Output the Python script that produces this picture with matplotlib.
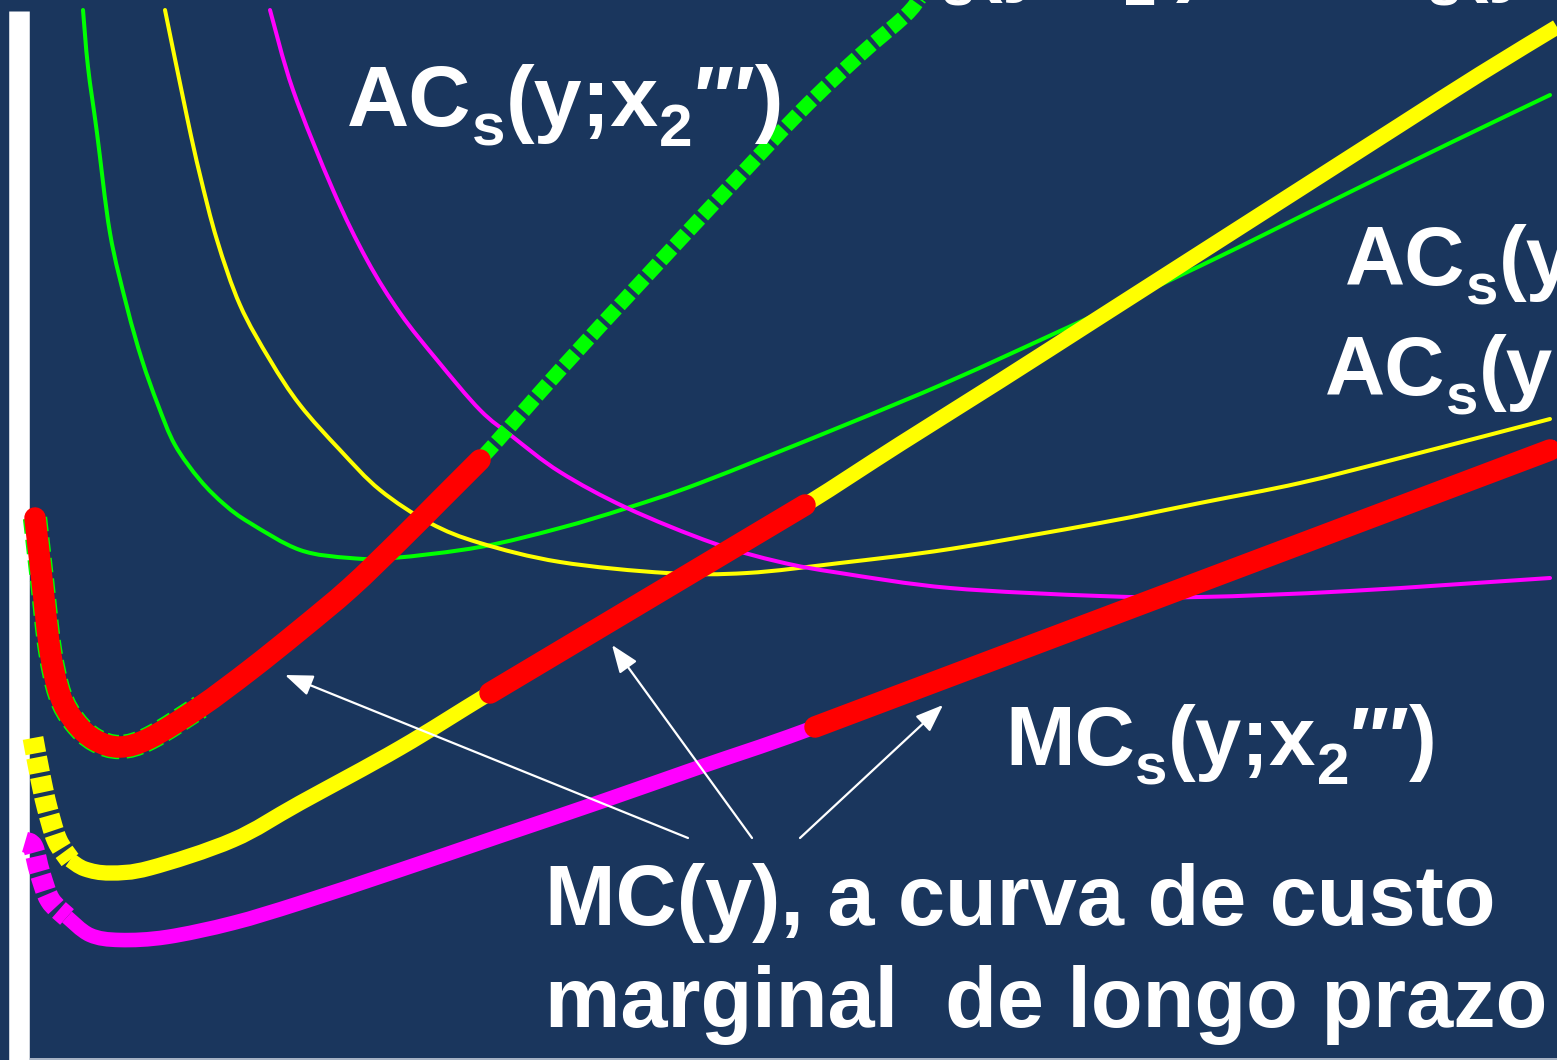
import matplotlib
matplotlib.use("Agg")
import matplotlib.pyplot as plt
from matplotlib.path import Path
from matplotlib.patches import PathPatch

# Output level (q) and cost (c) for each short-run curve, in chart units
# (q runs 0..1557 left to right, c runs 0..1060 bottom to top).

# Short-run average cost curves for plants x2', x2'', x2'''
ac1_q = [83, 88, 97, 110, 127, 142, 158, 175, 200, 225, 250, 300, 350, 393, 480,
         560, 627, 700, 840, 950, 1060, 1200, 1350, 1450, 1550]
ac1_c = [1050, 993, 927, 827, 753, 700, 655, 615, 580, 555, 537, 510, 502, 502, 513,
         532, 552, 577, 633, 679, 729, 794, 868, 917, 965]

ac2_q = [165, 187, 200, 217, 240, 270, 300, 340, 380, 430, 480, 560, 667, 747, 840,
         950, 1100, 1200, 1300, 1400, 1550]
ac2_c = [1050, 943, 885, 820, 755, 700, 655, 610, 570, 537, 517, 498, 487, 487, 497,
         511, 537, 557, 577, 602, 641]

ac3_q = [270, 293, 333, 367, 400, 437, 480, 513, 560, 627, 713, 780, 840, 950,
         1100, 1200, 1350, 1550]
ac3_c = [1050, 970, 870, 800, 747, 700, 650, 623, 588, 552, 517, 498, 487, 472,
         464, 463, 469, 482]

# Short-run marginal cost curves
mc1_q = [35, 42, 50, 60, 75, 95, 120, 150, 200, 250, 300, 350, 400, 440,
         480, 560, 640, 720, 800, 860, 905, 920]
mc1_c = [545, 480, 410, 365, 338, 320, 313, 322, 353, 390, 430, 472, 520, 560,
         600, 690, 777, 863, 948, 1005, 1044, 1062]

mc2_q = [33, 40, 47, 57, 70, 85, 110, 150, 233, 300, 400, 490, 600, 700, 805, 900,
         1000, 1100, 1200, 1300, 1400, 1480, 1557]
mc2_c = [322, 285, 253, 220, 200, 191, 187, 192, 220, 257, 312, 367, 433, 492, 555, 616,
         679, 743, 807, 871, 935, 986, 1033]

mc3_q = [25, 33, 40, 50, 67, 90, 120, 167, 233, 300, 400, 500, 600, 700, 807,
         1000, 1200, 1400, 1557]
mc3_c = [218, 213, 187, 160, 143, 125, 120, 123, 137, 157, 190, 224, 258, 293, 330,
         403, 478, 554, 613]

# Long-run marginal cost: the pieces of the short-run MC curves that are used
lmc1_q = [35, 42, 50, 60, 75, 95, 120, 150, 200, 250, 300, 350, 400, 440, 480]
lmc1_c = [542, 480, 410, 365, 338, 320, 313, 322, 353, 390, 430, 472, 520, 560, 600]
lmc2_q = [490, 805]
lmc2_c = [367, 555]
lmc3_q = [815, 1550]
lmc3_c = [333, 610]

# Pointer arrows (tail -> head)
arrow_tail_q = [688, 752, 800]
arrow_tail_c = [222, 222, 222]
arrow_head_q = [285, 612, 943]
arrow_head_c = [385, 415, 355]

NAVY = "#1a365d"
GREEN = "#00ff00"
YELLOW = "#ffff00"
MAGENTA = "#ff00ff"
RED = "#ff0000"

W, H = 1557, 1060
fig = plt.figure(figsize=(W / 100, H / 100), dpi=100, facecolor=NAVY)
ax = fig.add_axes([0, 0, 1, 1])
ax.set_facecolor(NAVY)
ax.set_xlim(0, W)
ax.set_ylim(0, H)
ax.axis("off")


def smooth_curve(q, c, color, lw, linestyle="solid", capstyle="round", zorder=3):
    """Draw a smooth curve through the given points (Catmull-Rom as cubic Beziers)."""
    pts = list(zip(q, c))
    n = len(pts)
    verts = [pts[0]]
    codes = [Path.MOVETO]
    if n == 2:
        verts.append(pts[1])
        codes.append(Path.LINETO)
    else:
        for i in range(n - 1):
            p0 = pts[i - 1] if i > 0 else pts[i]
            p1 = pts[i]
            p2 = pts[i + 1]
            p3 = pts[i + 2] if i + 2 < n else pts[i + 1]
            c1 = (p1[0] + (p2[0] - p0[0]) / 6, p1[1] + (p2[1] - p0[1]) / 6)
            c2 = (p2[0] - (p3[0] - p1[0]) / 6, p2[1] - (p3[1] - p1[1]) / 6)
            verts += [c1, c2, p2]
            codes += [Path.CURVE4] * 3
    patch = PathPatch(Path(verts, codes), fill=False, edgecolor=color, lw=lw,
                      linestyle=linestyle, capstyle=capstyle, joinstyle="round",
                      zorder=zorder)
    ax.add_patch(patch)


# vertical cost axis and lower border
ax.plot([19.5, 19.5], [0, 1049], color="white", lw=14.8, solid_capstyle="butt", zorder=2)
ax.plot([30, W], [0.8, 0.8], color="#c3ccd8", lw=1.2, zorder=2)

# short-run average cost curves
for q, c, col in [(ac1_q, ac1_c, GREEN), (ac2_q, ac2_c, YELLOW), (ac3_q, ac3_c, MAGENTA)]:
    smooth_curve(q, c, col, 2.9, zorder=3)

# short-run marginal cost curves (dashed where they rise steeply from the axis)
dash = (0, (1.1, 0.3))
head_dash = (0, (0.75, 0.2))
smooth_curve(mc1_q, mc1_c, GREEN, 10.5, linestyle=dash, capstyle="butt", zorder=4)
smooth_curve(mc2_q[:5], mc2_c[:5], YELLOW, 15, linestyle=head_dash, capstyle="butt", zorder=4)
smooth_curve(mc2_q[4:], mc2_c[4:], YELLOW, 11, capstyle="butt", zorder=4)
smooth_curve(mc3_q[:5], mc3_c[:5], MAGENTA, 15, linestyle=head_dash, capstyle="butt", zorder=4)
smooth_curve(mc3_q[4:], mc3_c[4:], MAGENTA, 10.5, capstyle="butt", zorder=4)

# green short-run MC peeking out along the first long-run piece
smooth_curve(lmc1_q[:9], lmc1_c[:9], GREEN, 17.5, linestyle=(0, (0.6, 0.25)),
             capstyle="butt", zorder=4.5)

# long-run marginal cost pieces
for q, c in [(lmc1_q, lmc1_c), (lmc2_q, lmc2_c), (lmc3_q, lmc3_c)]:
    smooth_curve(q, c, RED, 15.5, capstyle="round", zorder=5)

# arrows from the caption to the red pieces
for tq, tc, hq, hc in zip(arrow_tail_q, arrow_tail_c, arrow_head_q, arrow_head_c):
    ax.annotate("", xy=(hq, hc), xytext=(tq, tc),
                arrowprops=dict(arrowstyle="-|>,head_length=1.7,head_width=0.65",
                                color="white", lw=1.6, mutation_scale=10,
                                shrinkA=0, shrinkB=0), zorder=6)

FAMILY = ["Liberation Sans", "DejaVu Sans"]
renderer = fig.canvas.get_renderer()


def label(x, y, pieces, size):
    """Write a label made of normal and subscript pieces, left to right."""
    em = size * 100 / 72
    for text, sub in pieces:
        fs = size * 0.7 if sub else size
        dy = -0.23 * em if sub else 0
        t = ax.text(x, y + dy, text, fontsize=fs, family=FAMILY, weight="bold",
                    color="white", ha="left", va="baseline", zorder=7, clip_on=False)
        x += t.get_window_extent(renderer).width + 0.005 * em


def cost_label(kind, primes):
    return [(kind, False), ("s", True), ("(y;x", False), ("2", True), (primes + ")", False)]


label(347, 934, cost_label("AC", "′′′"), 62)
label(812, 1074, cost_label("MC", "′"), 60)
label(1298, 1074, cost_label("MC", "′′"), 60)
label(1345, 775, cost_label("AC", "′"), 60)
label(1325, 665, cost_label("AC", "′′"), 60)
label(1005, 295, cost_label("MC", "′′′"), 60)

for y, line in [(135, "MC(y), a curva de custo"), (33, "marginal  de longo prazo")]:
    ax.text(545, y, line, fontsize=61, family=FAMILY, weight="bold", color="white",
            ha="left", va="baseline", zorder=7)

fig.savefig("out.png", dpi=100, facecolor=NAVY)
